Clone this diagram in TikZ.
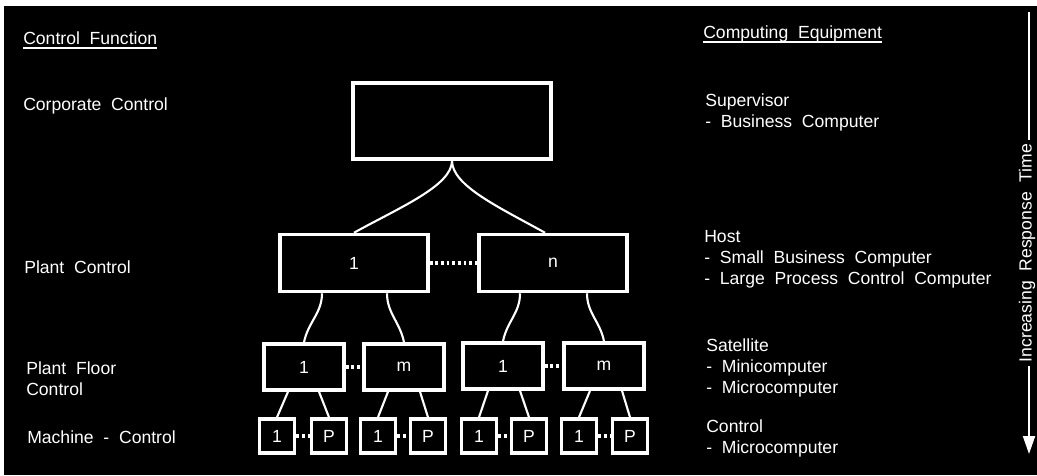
\documentclass[tikz,border=0pt]{standalone}
\usepackage{fontspec}
\setmainfont{Liberation Sans}[WordSpace=2]
\usetikzlibrary{arrows.meta,calc}
\tikzset{
  lbl/.style={anchor=west,inner sep=0pt,align=left,font=\fontsize{12.5}{15}\selectfont},
  blk/.style={draw,line width=2.5pt,inner sep=0pt,font=\fontsize{12.5}{15}\selectfont},
  corpbox/.style={blk,minimum width=4.95cm,minimum height=1.9cm},
  plantbox/.style={blk,minimum width=3.7cm,minimum height=1.425cm},
  floorbox/.style={blk,minimum width=2cm,minimum height=1.15cm},
  machbox/.style={blk,minimum width=0.875cm,minimum height=0.85cm},
  link/.style={line width=1.5pt},
  dots/.style={line width=2.2pt,dash pattern=on 2pt off 2pt}
}
\begin{document}
\begin{tikzpicture}[x=0.025cm,y=-0.025cm,white]
        \useasboundingbox (0,0) rectangle (1037,475);
        \fill [black] (4,6) rectangle (1037,475);
        \node [lbl] (cf) at (23,38) {Control Function};
        \draw [line width=1.4pt] ([yshift=-2.5pt]cf.base west) -- ([yshift=-2.5pt]cf.base east);
        \node [lbl] (cc) at (23,106) {Corporate Control};
        \node [lbl] (pc) at (24,267) {Plant Control};
        \node [lbl] (pfc) at (26,379) {Plant Floor\\Control};
        \node [lbl] (mc) at (27,437) {Machine - Control};
        \node [lbl] (ce) at (703,34) {Computing Equipment};
        \draw [line width=1.4pt] ([yshift=-2.5pt]ce.base west) -- ([yshift=-2.5pt]ce.base east);
        \node [lbl] (sup) at (705,112) {Supervisor\\- Business Computer};
        \node [lbl] (host) at (704,259) {Host\\- Small Business Computer\\- Large Process Control Computer};
        \node [lbl] (sat) at (706,368) {Satellite\\- Minicomputer\\- Microcomputer};
        \node [lbl] (ctl) at (706,438) {Control\\- Microcomputer};
        \node [corpbox] (corp) at (452,121) {};
        \node [plantbox] (pl1) at (354,263) {1};
        \node [plantbox] (pln) at (553,263) {n};
        \node [floorbox] (f1) at (304,367) {1};
        \node [floorbox] (f2) at (404,367) {m};
        \node [floorbox] (f3) at (503,366) {1};
        \node [floorbox] (f4) at (604,366) {m};
        \node [machbox] (m1) at (277,436) {1};
        \node [machbox] (m2) at (329,436) {P};
        \node [machbox] (m3) at (378,436) {1};
        \node [machbox] (m4) at (428,436) {P};
        \node [machbox] (m5) at (479,436) {1};
        \node [machbox] (m6) at (529,436) {P};
        \node [machbox] (m7) at (579,436) {1};
        \node [machbox] (m8) at (630,436) {P};
        \draw [link] (corp.south) .. controls +(0,25) and +(45,-25) .. (pl1.north);
        \draw [link] (corp.south) .. controls +(0,25) and +(-45,-25) .. ($(pln.north)+(-8,0)$);
        \draw [link] ($(pl1.south)+(-32,0)$) .. controls +(0,20) and +(4,-20) .. (f1.north);
        \draw [link] ($(pl1.south)+(33,0)$) .. controls +(0,20) and +(-4,-20) .. (f2.north);
        \draw [link] ($(pln.south)+(-33,0)$) .. controls +(0,20) and +(4,-20) .. (f3.north);
        \draw [link] ($(pln.south)+(34,0)$) .. controls +(0,20) and +(-4,-20) .. (f4.north);
        \draw [link] ($(f1.south)+(-16,0)$) -- (m1.north);
        \draw [link] ($(f1.south)+(15,0)$) -- (m2.north);
        \draw [link] ($(f2.south)+(-16,0)$) -- (m3.north);
        \draw [link] ($(f2.south)+(16,0)$) -- (m4.north);
        \draw [link] ($(f3.south)+(-15,0)$) -- (m5.north);
        \draw [link] ($(f3.south)+(17,0)$) -- (m6.north);
        \draw [link] ($(f4.south)+(-14,0)$) -- (m7.north);
        \draw [link] ($(f4.south)+(18,0)$) -- (m8.north);
        \draw [dots] (pl1.east) -- (pln.west);
        \draw [dots] (f1.east) -- (f2.west);
        \draw [dots] (f3.east) -- (f4.west);
        \draw [dots] (m1.east) -- (m2.west);
        \draw [dots] (m3.east) -- (m4.west);
        \draw [dots] (m5.east) -- (m6.west);
        \draw [dots] (m7.east) -- (m8.west);
        \node [lbl,anchor=center,rotate=90,inner sep=2.5pt] (resp) at (1027,253) {Increasing Response Time};
        \coordinate (atop) at (1029,12);
        \coordinate (abot) at (1029,454);
        \draw [line width=1.4pt] (atop) -- (atop |- resp.east);
        \draw [line width=1.4pt,-{Triangle[width=0.3cm,length=0.45cm]}] (abot |- resp.west) -- (abot);
\end{tikzpicture}
\end{document}
